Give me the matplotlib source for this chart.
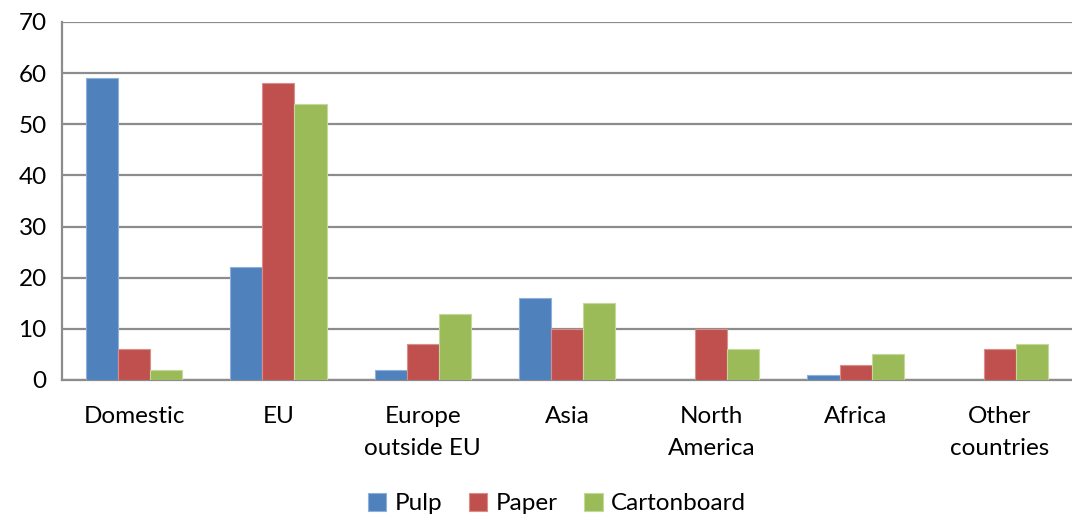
import numpy as np
import matplotlib.pyplot as plt

# Chart data
categories = ["Domestic", "EU", "Europe\noutside EU", "Asia", "North\nAmerica", "Africa", "Other\ncountries"]
pulp = [59, 22, 2, 16, 0, 1, 0]
paper = [6, 58, 7, 10, 10, 3, 6]
cartonboard = [2, 54, 13, 15, 6, 5, 7]

series_names = ["Pulp", "Paper", "Cartonboard"]
colors = ["#4F81BD", "#C0504D", "#9BBB59"]
edges = ["#8FB0DA", "#DA8E8C", "#C3D89A"]

plt.rcParams['font.family'] = ['Lato', 'DejaVu Sans']

fig = plt.figure(figsize=(10.72, 5.16), dpi=100)
ax = fig.add_axes([62 / 1072, 1 - 380 / 516, 1 - 62 / 1072, (380 - 22) / 516])

x = np.arange(len(categories))
width = 1 / 4.5
for i, (vals, name) in enumerate(zip([pulp, paper, cartonboard], series_names)):
    ax.bar(x + (i - 1) * width, vals, width, color=colors[i], edgecolor=edges[i],
           linewidth=0.8, label=name, zorder=3)

ax.set_xlim(-0.5, len(categories) - 0.5)
ax.set_ylim(0, 70)
ax.set_yticks(range(0, 71, 10))
ax.yaxis.grid(True, color="#8C8C8C", linewidth=1.6, zorder=0)
ax.set_axisbelow(True)

for side in ["top", "right"]:
    ax.spines[side].set_visible(False)
ax.spines["left"].set_color("#8C8C8C")
ax.spines["left"].set_linewidth(1.6)
ax.spines["bottom"].set_color("#8C8C8C")
ax.spines["bottom"].set_linewidth(1.6)

ax.set_xticks(x)
ax.set_xticklabels(categories, fontsize=17.5, linespacing=1.65)
ax.tick_params(axis="x", length=0, pad=19)
ax.tick_params(axis="y", length=0, pad=11, labelsize=17.5)

ax.legend(loc="center", bbox_to_anchor=(0.49, -0.345), ncol=3, frameon=False,
          fontsize=17.5, handlelength=0.75, handleheight=0.75, handletextpad=0.35,
          columnspacing=1.1)

fig.savefig("out.png", dpi=100)
